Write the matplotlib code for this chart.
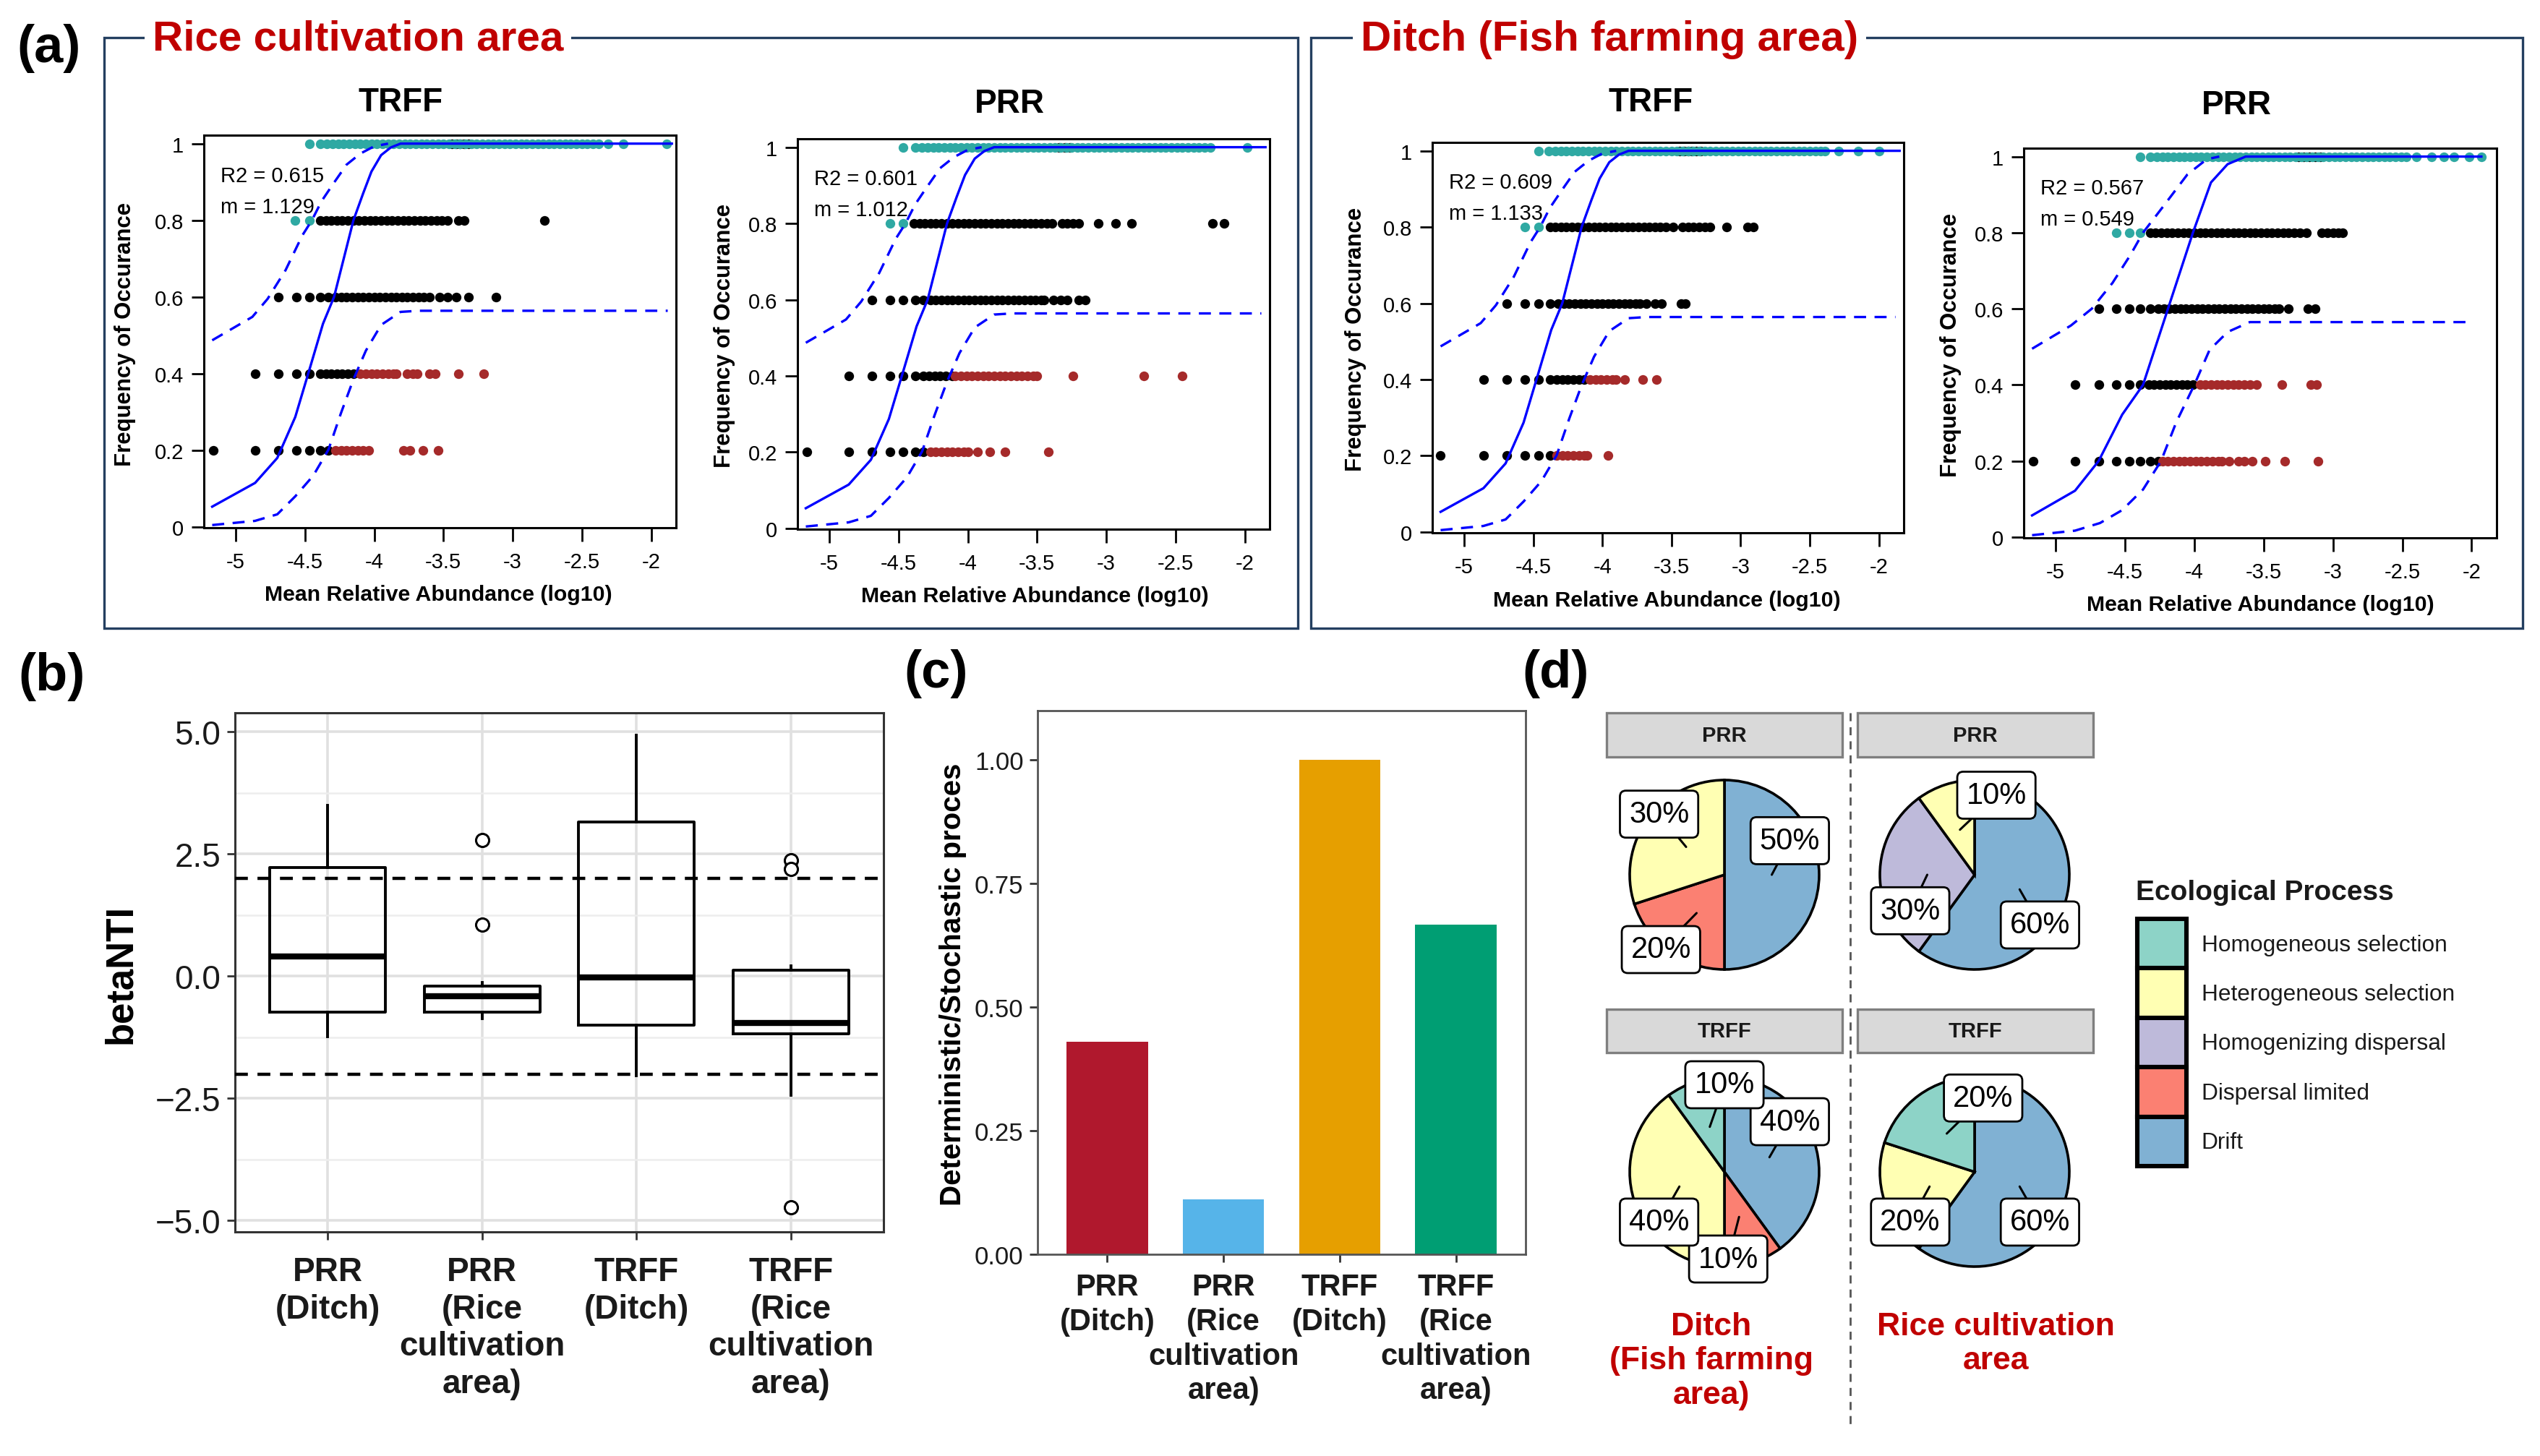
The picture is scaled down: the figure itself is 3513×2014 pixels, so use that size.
import matplotlib
matplotlib.use("Agg")
import matplotlib.pyplot as plt
from matplotlib.patches import Rectangle, Patch
from matplotlib.lines import Line2D
import numpy as np

plt.rcParams['font.family'] = ['Liberation Sans', 'DejaVu Sans']

# ---------------- data: (a) neutral community model ----------------
# x = mean relative abundance (log10), keyed by frequency of occurance
rice_trff_within = {
    1.0: [-3.44, -3.41, -3.38, -3.35, -3.32],
    0.8: [-4.39, -4.35, -4.31, -4.27, -4.23, -4.19, -4.15, -4.11, -4.07, -4.03, -3.99, -3.95, -3.91,
          -3.87, -3.83, -3.79, -3.75, -3.71, -3.67, -3.63, -3.59, -3.55, -3.51, -3.47, -3.39, -3.35, -2.77],
    0.6: [-4.69, -4.56, -4.47, -4.39, -4.33, -4.28, -4.24, -4.20, -4.16, -4.12, -4.08, -4.04, -4.00,
          -3.96, -3.92, -3.88, -3.84, -3.80, -3.76, -3.72, -3.68, -3.64, -3.60, -3.53, -3.47, -3.41,
          -3.32, -3.12],
    0.4: [-4.86, -4.69, -4.56, -4.47, -4.39, -4.35, -4.31, -4.27, -4.23, -4.19, -4.15],
    0.2: [-5.16, -4.86, -4.69, -4.56, -4.47, -4.39, -4.33],
}
rice_trff_above = {
    1.0: [-4.47, -4.39, -4.34, -4.30, -4.26, -4.22, -4.18, -4.14, -4.10, -4.06, -4.02, -3.98, -3.94,
          -3.90, -3.86, -3.82, -3.78, -3.74, -3.70, -3.66, -3.62, -3.58, -3.54, -3.50, -3.46, -3.42,
          -3.38, -3.34, -3.30, -3.26, -3.22, -3.18, -3.14, -3.10, -3.06, -3.02, -2.98, -2.94, -2.90,
          -2.86, -2.82, -2.78, -2.74, -2.70, -2.66, -2.62, -2.58, -2.54, -2.50, -2.46, -2.42, -2.38,
          -2.31, -2.20, -1.89],
    0.8: [-4.57, -4.47],
}
rice_trff_below = {
    0.4: [-4.10, -4.06, -4.02, -3.98, -3.94, -3.90, -3.86, -3.84, -3.76, -3.72, -3.69, -3.60, -3.56,
          -3.39, -3.21],
    0.2: [-4.28, -4.24, -4.20, -4.16, -4.12, -4.08, -4.04, -3.79, -3.74, -3.65, -3.54],
}

rice_prr_within = {
    1.0: [-3.34, -3.30, -3.26],
    0.8: [-4.39, -4.35, -4.31, -4.27, -4.23, -4.19, -4.15, -4.11, -4.07, -4.03, -3.99, -3.95, -3.91,
          -3.87, -3.83, -3.79, -3.75, -3.71, -3.67, -3.63, -3.59, -3.55, -3.51, -3.47, -3.43, -3.39,
          -3.32, -3.28, -3.24, -3.20, -3.06, -2.93, -2.82, -2.23, -2.15],
    0.6: [-4.69, -4.56, -4.47, -4.38, -4.32, -4.27, -4.23, -4.19, -4.15, -4.11, -4.07, -4.03, -3.99,
          -3.95, -3.91, -3.87, -3.83, -3.79, -3.75, -3.71, -3.67, -3.63, -3.59, -3.55, -3.51, -3.47,
          -3.45, -3.38, -3.33, -3.28, -3.20, -3.15],
    0.4: [-4.86, -4.69, -4.56, -4.47, -4.38, -4.32, -4.28, -4.24, -4.20, -4.16, -4.11],
    0.2: [-5.16, -4.86, -4.69, -4.56, -4.47, -4.38, -4.32],
}
rice_prr_above = {
    1.0: [-4.47, -4.38, -4.33, -4.29, -4.25, -4.21, -4.17, -4.13, -4.09, -4.05, -4.01, -3.97, -3.93,
          -3.89, -3.85, -3.81, -3.77, -3.73, -3.69, -3.65, -3.61, -3.57, -3.53, -3.49, -3.45, -3.41,
          -3.37, -3.33, -3.29, -3.25, -3.21, -3.17, -3.13, -3.09, -3.05, -3.01, -2.97, -2.93, -2.89,
          -2.85, -2.81, -2.77, -2.73, -2.69, -2.65, -2.61, -2.57, -2.53, -2.49, -2.45, -2.41, -2.37,
          -2.33, -2.29, -2.25, -1.98],
    0.8: [-4.56, -4.47],
}
rice_prr_below = {
    0.4: [-4.09, -4.05, -4.01, -3.97, -3.93, -3.89, -3.85, -3.81, -3.77, -3.73, -3.69, -3.65, -3.61,
          -3.57, -3.53, -3.50, -3.24, -2.73, -2.45],
    0.2: [-4.27, -4.23, -4.19, -4.15, -4.11, -4.07, -4.03, -4.00, -3.93, -3.84, -3.73, -3.42],
}

ditch_trff_within = {
    1.0: [-3.44, -3.41, -3.38, -3.35, -3.32, -3.29],
    0.8: [-4.38, -4.34, -4.30, -4.26, -4.22, -4.18, -4.14, -4.10, -4.06, -4.02, -3.98, -3.94, -3.90,
          -3.86, -3.82, -3.78, -3.74, -3.70, -3.66, -3.62, -3.58, -3.54, -3.49, -3.42, -3.38, -3.34,
          -3.30, -3.26, -3.22, -3.10, -2.95, -2.91],
    0.6: [-4.69, -4.56, -4.46, -4.38, -4.32, -4.28, -4.24, -4.20, -4.16, -4.12, -4.08, -4.04, -4.00,
          -3.96, -3.92, -3.88, -3.84, -3.80, -3.76, -3.73, -3.68, -3.62, -3.57, -3.43, -3.40],
    0.4: [-4.86, -4.69, -4.56, -4.46, -4.38, -4.33, -4.29, -4.25, -4.21, -4.17, -4.13],
    0.2: [-5.17, -4.86, -4.69, -4.56, -4.46, -4.38],
}
ditch_trff_above = {
    1.0: [-4.46, -4.39, -4.34, -4.30, -4.26, -4.22, -4.18, -4.14, -4.10, -4.06, -4.02, -3.98, -3.94,
          -3.90, -3.86, -3.82, -3.78, -3.74, -3.70, -3.66, -3.62, -3.58, -3.54, -3.50, -3.46, -3.42,
          -3.38, -3.34, -3.30, -3.26, -3.22, -3.18, -3.14, -3.10, -3.06, -3.02, -2.98, -2.94, -2.90,
          -2.86, -2.82, -2.78, -2.74, -2.70, -2.66, -2.62, -2.58, -2.54, -2.50, -2.46, -2.42, -2.39,
          -2.29, -2.15, -2.00],
    0.8: [-4.56, -4.46],
}
ditch_trff_below = {
    0.4: [-4.09, -4.05, -4.01, -3.97, -3.93, -3.90, -3.84, -3.71, -3.61],
    0.2: [-4.33, -4.29, -4.25, -4.21, -4.17, -4.13, -4.11, -3.96],
}

ditch_prr_within = {
    1.0: [-3.25, -3.21, -3.17, -3.13, -3.09],
    0.8: [-4.32, -4.28, -4.24, -4.20, -4.16, -4.12, -4.08, -4.04, -4.00, -3.96, -3.92, -3.88, -3.84,
          -3.80, -3.76, -3.72, -3.68, -3.64, -3.60, -3.56, -3.52, -3.48, -3.44, -3.40, -3.36, -3.32,
          -3.28, -3.24, -3.19, -3.08, -3.04, -3.00, -2.96, -2.93],
    0.6: [-4.69, -4.56, -4.47, -4.39, -4.32, -4.26, -4.22, -4.18, -4.14, -4.10, -4.06, -4.02, -3.98,
          -3.94, -3.90, -3.86, -3.82, -3.78, -3.74, -3.70, -3.66, -3.62, -3.58, -3.54, -3.50, -3.46,
          -3.42, -3.39, -3.32, -3.18, -3.13],
    0.4: [-4.86, -4.69, -4.56, -4.47, -4.39, -4.33, -4.29, -4.25, -4.21, -4.17, -4.13, -4.09, -4.05,
          -4.01],
    0.2: [-5.16, -4.86, -4.69, -4.56, -4.47, -4.39, -4.32, -4.26],
}
ditch_prr_above = {
    1.0: [-4.39, -4.32, -4.27, -4.23, -4.19, -4.15, -4.11, -4.07, -4.03, -3.99, -3.95, -3.91, -3.87,
          -3.83, -3.79, -3.75, -3.71, -3.67, -3.63, -3.59, -3.55, -3.51, -3.47, -3.43, -3.39, -3.35,
          -3.31, -3.27, -3.23, -3.19, -3.15, -3.11, -3.07, -3.03, -2.99, -2.95, -2.91, -2.87, -2.83,
          -2.79, -2.75, -2.71, -2.67, -2.63, -2.59, -2.55, -2.51, -2.47, -2.40, -2.29, -2.20, -2.13,
          -2.02, -1.93],
    0.8: [-4.56, -4.47, -4.39],
}
ditch_prr_below = {
    0.4: [-3.96, -3.92, -3.88, -3.84, -3.80, -3.76, -3.72, -3.68, -3.64, -3.60, -3.55, -3.37, -3.16,
          -3.12],
    0.2: [-4.23, -4.19, -4.15, -4.11, -4.07, -4.03, -3.99, -3.95, -3.91, -3.87, -3.83, -3.80, -3.75,
          -3.68, -3.64, -3.58, -3.49, -3.35, -3.11],
}

# fitted neutral curve + 95% CI (rice TRFF, rice PRR, ditch TRFF look the same)
fit_x = [-5.17, -4.86, -4.70, -4.57, -4.46, -4.37, -4.29, -4.22, -4.15, -4.08, -4.02, -3.95, -3.88, -3.81, -1.85]
fit_y = [0.053, 0.115, 0.18, 0.287, 0.42, 0.53, 0.60, 0.70, 0.80, 0.87, 0.927, 0.97, 0.99, 1.0, 1.0]
upper_x = [-5.17, -4.88, -4.77, -4.64, -4.52, -4.45, -4.38, -4.30, -4.20, -4.10, -4.00, -3.90]
upper_y = [0.487, 0.548, 0.595, 0.67, 0.76, 0.80, 0.85, 0.893, 0.945, 0.974, 0.993, 1.0]
lower_x = [-5.17, -4.86, -4.70, -4.57, -4.44, -4.33, -4.24, -4.15, -4.06, -3.95, -3.81, -3.68, -1.88]
lower_y = [0.005, 0.016, 0.033, 0.08, 0.134, 0.202, 0.297, 0.385, 0.46, 0.527, 0.561, 0.564, 0.564]
# ditch PRR curve
fit2_x = [-5.17, -4.86, -4.69, -4.52, -4.37, -4.28, -4.19, -4.10, -4.01, -3.88, -3.76, -3.63, -1.93]
fit2_y = [0.057, 0.122, 0.2, 0.322, 0.4, 0.5, 0.6, 0.7, 0.8, 0.932, 0.98, 1.0, 1.0]
upper2_x = [-5.17, -4.89, -4.74, -4.59, -4.46, -4.37, -4.22, -4.05, -3.91, -3.82]
upper2_y = [0.495, 0.556, 0.60, 0.668, 0.742, 0.80, 0.871, 0.953, 0.993, 1.0]
lower2_x = [-5.17, -4.86, -4.68, -4.52, -4.37, -4.24, -4.13, -4.00, -3.89, -3.76, -3.60, -2.00]
lower2_y = [0.005, 0.017, 0.037, 0.071, 0.125, 0.2, 0.302, 0.4, 0.492, 0.539, 0.565, 0.565]

# ---------------- data: (b) betaNTI ----------------
groups = ["PRR\n(Ditch)", "PRR\n(Rice\ncultivation\narea)", "TRFF\n(Ditch)", "TRFF\n(Rice\ncultivation\narea)"]
nti_lo = [-1.23, -0.87, -2.04, -2.44]
nti_q1 = [-0.74, -0.73, -1.00, -1.17]
nti_med = [0.41, -0.41, -0.02, -0.95]
nti_q3 = [2.22, -0.20, 3.15, 0.13]
nti_hi = [3.49, -0.13, 4.93, 0.22]
nti_out = [[], [2.78, 1.05], [], [2.38, 2.20, -4.72]]

# ---------------- data: (c) ratio ----------------
ratio = [0.429, 0.111, 1.0, 0.667]
ratio_colors = ['#B0182D', '#56B4E9', '#E69F00', '#009E73']

# ---------------- data: (d) ecological processes ----------------
legend_names = ["Homogeneous selection", "Heterogeneous selection", "Homogenizing dispersal",
                "Dispersal limited", "Drift"]
legend_colors = ['#8DD3C7', '#FFFFB3', '#BEBADA', '#FB8072', '#80B1D3']
# stacking order of the pies (clockwise from 12 o'clock)
pie_order = ["Drift", "Dispersal limited", "Homogenizing dispersal", "Heterogeneous selection",
             "Homogeneous selection"]
pie_prr_ditch = [50, 20, 0, 30, 0]
pie_prr_rice = [60, 0, 30, 10, 0]
pie_trff_ditch = [40, 10, 0, 40, 10]
pie_trff_rice = [60, 0, 0, 20, 20]

W, H = 3513, 2015
fig = plt.figure(figsize=(W / 200, H / 200), dpi=200)


def px_rect(x0, y0, x1, y1):
    return [x0 / W, 1 - y1 / H, (x1 - x0) / W, (y1 - y0) / H]


def fx(x):
    return x / W


def fy(y):
    return 1 - y / H


TEAL = '#2FA9A3'
BROWN = '#A52A2A'
BLUE = '#0000FF'


def neutral_panel(rect, within, above, below, cx, cy, ux, uy, lx, ly, r2, m):
    ax = fig.add_axes(rect)
    for d, col in [(within, 'black'), (above, TEAL), (below, BROWN)]:
        for lvl, xs in d.items():
            ax.plot(xs, [lvl] * len(xs), 'o', color=col, ms=4.8, mew=0, zorder=2)
    ax.plot(cx, cy, color=BLUE, lw=1.2, zorder=3)
    ax.plot(ux, uy, color=BLUE, lw=1.2, ls=(0, (5, 3.5)), zorder=3)
    ax.plot(lx, ly, color=BLUE, lw=1.2, ls=(0, (5, 3.5)), zorder=3)
    ax.set_xlim(-5.23, -1.82)
    ax.set_ylim(-0.002, 1.022)
    ax.set_xticks([-5, -4.5, -4, -3.5, -3, -2.5, -2])
    ax.set_xticklabels(['-5', '-4.5', '-4', '-3.5', '-3', '-2.5', '-2'])
    ax.set_yticks([0, 0.2, 0.4, 0.6, 0.8, 1.0])
    ax.set_yticklabels(['0', '0.2', '0.4', '0.6', '0.8', '1'])
    ax.tick_params(axis='x', direction='out', length=7, width=1, labelsize=10.5, pad=5)
    ax.tick_params(axis='y', direction='out', length=6, width=1, labelsize=10.5, pad=4)
    for s in ax.spines.values():
        s.set_linewidth(1.1)
    ax.text(-5.11, 0.917, "R2 = " + r2, fontsize=10.5, va='center', ha='left')
    ax.text(-5.11, 0.836, "m = " + m, fontsize=10.5, va='center', ha='left')
    return ax


# ---- (a) frames ----
for (x0, x1, title, tx) in [(144, 1795, "Rice cultivation area", 211),
                            (1813, 3489, "Ditch (Fish farming area)", 1882)]:
    fig.add_artist(Rectangle((fx(x0), fy(870)), fx(x1) - fx(x0), fy(53) - fy(870),
                             transform=fig.transFigure, fill=False, ec='#243F60', lw=1.2))
    fig.text(fx(tx), fy(55), title, color='#C00000', fontsize=21, fontweight='bold',
             ha='left', va='center',
             bbox=dict(facecolor='white', edgecolor='none', pad=4))

neutral_panel(px_rect(282, 188, 935, 731), rice_trff_within, rice_trff_above, rice_trff_below,
              fit_x, fit_y, upper_x, upper_y, lower_x, lower_y, "0.615", "1.129")
neutral_panel(px_rect(1103, 193, 1756, 733), rice_prr_within, rice_prr_above, rice_prr_below,
              fit_x, fit_y, upper_x, upper_y, lower_x, lower_y, "0.601", "1.012")
neutral_panel(px_rect(1981, 198, 2633, 738), ditch_trff_within, ditch_trff_above, ditch_trff_below,
              fit_x, fit_y, upper_x, upper_y, lower_x, lower_y, "0.609", "1.133")
neutral_panel(px_rect(2799, 206, 3453, 745), ditch_prr_within, ditch_prr_above, ditch_prr_below,
              fit2_x, fit2_y, upper2_x, upper2_y, lower2_x, lower2_y, "0.567", "0.549")

for (tx, ty, t) in [(554, 142, "TRFF"), (1396, 144, "PRR"), (2283, 142, "TRFF"), (3093, 146, "PRR")]:
    fig.text(fx(tx), fy(ty), t, fontsize=16.5, fontweight='bold', ha='center', va='center')
for (tx, ty) in [(606, 823), (1431, 825), (2305, 831), (3126, 837)]:
    fig.text(fx(tx), fy(ty), "Mean Relative Abundance (log10)", fontsize=10.9, fontweight='bold',
             ha='center', va='center')
for (tx, ty) in [(173, 462), (1002, 464), (1875, 469), (2698, 477)]:
    fig.text(fx(tx), fy(ty), "Frequency of Occurance", fontsize=11.2, fontweight='bold',
             ha='center', va='center', rotation=90)

# ---- panel letters ----
for (tx, ty, t) in [(23, 67, "(a)"), (25, 936, "(b)"), (1250, 932, "(c)"), (2105, 932, "(d)")]:
    fig.text(fx(tx), fy(ty), t, fontsize=26, fontweight='bold', ha='left', va='center')

# ---- (b) betaNTI boxplot ----
axb = fig.add_axes(px_rect(325, 987, 1222, 1705))
stats = []
for i in range(4):
    stats.append(dict(whislo=nti_lo[i], q1=nti_q1[i], med=nti_med[i], q3=nti_q3[i],
                      whishi=nti_hi[i], fliers=nti_out[i]))
axb.bxp(stats, positions=[1, 2, 3, 4], widths=0.75, showcaps=False,
        boxprops=dict(color='black', lw=1.4),
        whiskerprops=dict(color='black', lw=1.4),
        medianprops=dict(color='black', lw=3.0),
        flierprops=dict(marker='o', mfc='white', mec='black', ms=6.5, mew=1.1))
axb.axhline(2, color='black', lw=1.6, ls=(0, (4, 3)), zorder=3)
axb.axhline(-2, color='black', lw=1.6, ls=(0, (4, 3)), zorder=3)
axb.set_xlim(0.4, 4.6)
axb.set_ylim(-5.23, 5.39)
axb.set_yticks([-5, -2.5, 0, 2.5, 5])
axb.set_yticklabels(['\u22125.0', '\u22122.5', '0.0', '2.5', '5.0'])
axb.set_yticks([-3.75, -1.25, 1.25, 3.75], minor=True)
axb.set_xticks([1, 2, 3, 4])
axb.set_xticklabels(groups, fontweight='bold', linespacing=1.22)
axb.tick_params(axis='both', which='major', direction='out', length=4, width=1, color='#333333',
                labelsize=16.5, labelcolor='#1A1A1A')
axb.tick_params(axis='x', pad=8)
axb.tick_params(axis='y', pad=3)
axb.tick_params(which='minor', length=0)
axb.grid(which='major', color='#E0E0E0', lw=1.3)
axb.grid(which='minor', axis='y', color='#EDEDED', lw=0.9)
axb.set_axisbelow(True)
for s in axb.spines.values():
    s.set_color('#333333')
    s.set_linewidth(1.1)
fig.text(fx(167), fy(1347), "betaNTI", fontsize=19, fontweight='bold', rotation=90,
         ha='center', va='center')

# ---- (c) deterministic / stochastic ----
axc = fig.add_axes(px_rect(1435, 984, 2110, 1736))
axc.bar([1, 2, 3, 4], ratio, width=0.7, color=ratio_colors)
axc.set_xlim(0.4, 4.6)
axc.set_ylim(0, 1.099)
axc.set_yticks([0, 0.25, 0.5, 0.75, 1.0])
axc.set_yticklabels(['0.00', '0.25', '0.50', '0.75', '1.00'])
axc.set_xticks([1, 2, 3, 4])
axc.set_xticklabels(groups, fontweight='bold', linespacing=1.25)
axc.tick_params(axis='x', direction='out', length=4, width=1, color='#333333', labelsize=15,
                labelcolor='#1A1A1A', pad=5)
axc.tick_params(axis='y', direction='out', length=4, width=1, color='#333333', labelsize=12.5,
                labelcolor='#1A1A1A', pad=3)
for s in axc.spines.values():
    s.set_color('#555555')
    s.set_linewidth(1.0)
fig.text(fx(1318), fy(1362), "Deterministic/Stochastic proces", fontsize=14.5, fontweight='bold',
         rotation=90, ha='center', va='center')

# ---- (d) pies ----
color_of = dict(zip(legend_names, legend_colors))
R = 131
L = 1.35
pie_specs = [
    (2385, 1211, pie_prr_ditch, [(0.69, 0.36), (-0.67, -0.79), (-0.69, 0.64)]),
    (2731, 1211, pie_prr_rice, [(0.69, -0.53), (-0.68, -0.38), (0.23, 0.84)]),
    (2385, 1622, pie_trff_ditch, [(0.69, 0.53), (0.04, -0.92), (-0.69, -0.53), (0.0, 0.92)]),
    (2731, 1622, pie_trff_rice, [(0.69, -0.53), (-0.68, -0.53), (0.09, 0.78)]),
]
for (cx, cy, vals, label_pos) in pie_specs:
    half = R * L
    axp = fig.add_axes(px_rect(cx - half, cy - half, cx + half, cy + half))
    v = [x for x in vals if x > 0]
    cols = [color_of[n] for n, x in zip(pie_order, vals) if x > 0]
    wedges, _ = axp.pie(v, colors=cols, startangle=90, counterclock=False, radius=1,
                        wedgeprops=dict(edgecolor='black', linewidth=1.3))
    for w, val, (lx_, ly_) in zip(wedges, v, label_pos):
        ang = np.deg2rad((w.theta1 + w.theta2) / 2)
        ax_, ay_ = 0.5 * np.cos(ang), 0.5 * np.sin(ang)
        axp.annotate(f"{val}%", xy=(ax_, ay_), xytext=(lx_, ly_), fontsize=15,
                     ha='center', va='center',
                     bbox=dict(boxstyle='round,pad=0.3,rounding_size=0.2', fc='white', ec='black', lw=1),
                     arrowprops=dict(arrowstyle='-', color='black', lw=1.1, shrinkA=0, shrinkB=0))
    axp.set_xlim(-L, L)
    axp.set_ylim(-L, L)
    axp.set_aspect('equal')
    axp.axis('off')

for (x0, y0, x1, y1, t) in [(2222, 987, 2548, 1048, "PRR"), (2569, 987, 2895, 1048, "PRR"),
                            (2222, 1397, 2548, 1457, "TRFF"), (2569, 1397, 2895, 1457, "TRFF")]:
    fig.add_artist(Rectangle((fx(x0), fy(y1)), fx(x1) - fx(x0), fy(y0) - fy(y1),
                             transform=fig.transFigure, fc='#D9D9D9', ec='#7F7F7F', lw=1.2))
    fig.text(fx((x0 + x1) / 2), fy((y0 + y1) / 2), t, fontsize=10.5, fontweight='bold',
             color='#1A1A1A', ha='center', va='center')

fig.add_artist(Line2D([fx(2559), fx(2559)], [fy(987), fy(1971)], transform=fig.transFigure,
                      color='#555555', lw=1.0, ls=(0, (4, 3))))

fig.text(fx(2367), fy(1815), "Ditch\n(Fish farming\narea)", color='#C00000', fontsize=16,
         fontweight='bold', ha='center', va='top', linespacing=1.2)
fig.text(fx(2760), fy(1815), "Rice cultivation\narea", color='#C00000', fontsize=16,
         fontweight='bold', ha='center', va='top', linespacing=1.2)

# legend
fig.text(fx(2954), fy(1235), "Ecological Process", fontsize=14, fontweight='bold',
         color='#1A1A1A', ha='left', va='center')
handles = [Patch(facecolor=c, edgecolor='black', linewidth=2.2) for c in legend_colors]
fig.legend(handles, legend_names, loc='upper left', bbox_to_anchor=(fx(2956), fy(1272)),
           frameon=False, fontsize=11.4,
           handlelength=2.15, handleheight=2.95, labelspacing=0.0, handletextpad=0.65,
           borderpad=0, borderaxespad=0, labelcolor='#1A1A1A')

fig.savefig("out.png", dpi=200, facecolor='white')
